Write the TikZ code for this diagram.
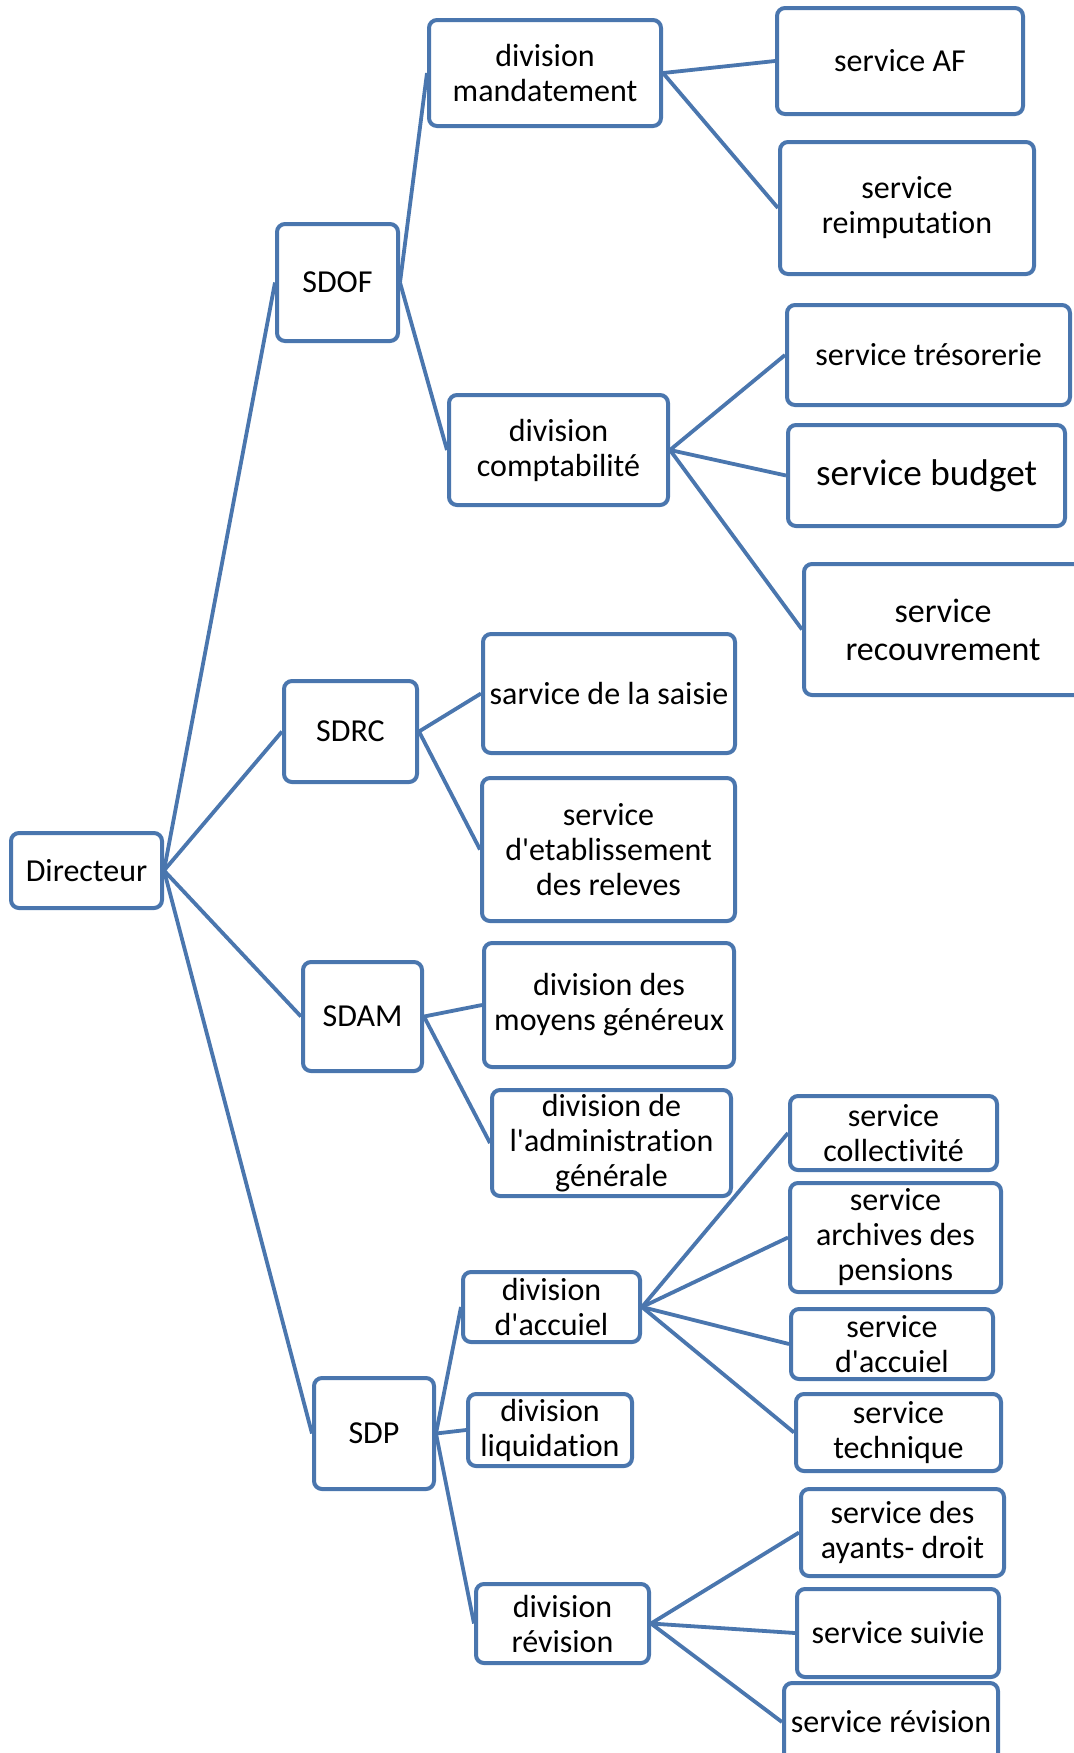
\documentclass[tikz,border=0pt]{standalone}
\usepackage{fontspec}
\setmainfont{Carlito}[Ligatures={NoCommon}]
\usetikzlibrary{backgrounds}
\definecolor{bl}{RGB}{74,118,174}
\newcommand{\ap}{\textquotesingle}
\tikzset{
  bx/.style 2 args={draw=bl, line width=2pt, rounded corners=4pt, fill=white,
    align=center, inner sep=0pt, minimum width=#1*0.5pt, minimum height=#2*0.5pt,
    font=\fontsize{16}{17.5}\selectfont},
  ln/.style={draw=bl, line width=1.9pt},
  big/.style={font=\fontsize{18.6}{20}\selectfont},
  mid/.style={font=\fontsize{17}{19}\selectfont}
}
\begin{document}
\begin{tikzpicture}[x=0.5pt,y=-0.5pt]
\useasboundingbox (0,0) rectangle (1073,1753);
% level 0
\node[bx={151}{75}] (dir) at (86.5,870.5) {Directeur};
% level 1
\node[bx={121}{117}] (sdof) at (337.5,282.5) {SDOF};
\node[bx={133}{101}] (sdrc) at (350.5,731.5) {SDRC};
\node[bx={119}{109}] (sdam) at (362.5,1016.5) {SDAM};
\node[bx={120}{111}] (sdp) at (374,1433.5) {SDP};
% SDOF children
\node[bx={232}{106}] (mand) at (545,73) {division\\mandatement};
\node[bx={219}{110}] (compta) at (558.5,450) {division\\comptabilit\'e};
\node[bx={246}{106}] (af) at (900,61) {service AF};
\node[bx={254}{132}] (reimp) at (907,208) {service\\reimputation};
\node[bx={283}{100}] (treso) at (928.5,355) {service tr\'esorerie};
\node[bx={277}{101},big] (budget) at (926.5,475.5) {service budget};
\node[bx={278}{131},mid] (recouv) at (943,629.5) {service\\recouvrement};
% SDRC children
\node[bx={252}{119}] (saisie) at (609,693.5) {sarvice de la saisie};
\node[bx={253}{143}] (etab) at (608.5,849.5) {service\\d\ap etablissement\\des releves};
% SDAM children
\node[bx={250}{124}] (moyens) at (609,1005) {division des\\moyens g\'en\'ereux};
\node[bx={239}{106}] (admin) at (611.5,1143) {division de\\l\ap administration\\g\'en\'erale};
% SDP children
\node[bx={177}{70}] (daccueil) at (551.5,1307) {division\\d\ap accuiel};
\node[bx={164}{72}] (liquid) at (550,1430) {division\\liquidation};
\node[bx={173}{79}] (drev) at (562.5,1623.5) {division\\r\'evision};
% division d'accuiel children
\node[bx={207}{74}] (collect) at (893.5,1133) {service\\collectivit\'e};
\node[bx={211}{109}] (archives) at (895.5,1237.5) {service\\archives des\\pensions};
\node[bx={202}{70}] (saccueil) at (892,1344) {service\\d\ap accuiel};
\node[bx={205}{77}] (techn) at (898.5,1432.5) {service\\technique};
% division revision children
\node[bx={203}{87}] (ayants) at (902.5,1532.5) {service des\\ayants- droit};
\node[bx={202}{88}] (suivie) at (898,1633) {service suivie};
\node[bx={214}{78}] (srev) at (891,1722) {service r\'evision};
\begin{scope}[on background layer]
\draw[ln] (dir.east) -- (sdof.west);
\draw[ln] (dir.east) -- (sdrc.west);
\draw[ln] (dir.east) -- (sdam.west);
\draw[ln] (dir.east) -- (sdp.west);
\draw[ln] (sdof.east) -- (mand.west);
\draw[ln] (sdof.east) -- (compta.west);
\draw[ln] (mand.east) -- (af.west);
\draw[ln] (mand.east) -- (reimp.west);
\draw[ln] (compta.east) -- (treso.west);
\draw[ln] (compta.east) -- (budget.west);
\draw[ln] (compta.east) -- (recouv.west);
\draw[ln] (sdrc.east) -- (saisie.west);
\draw[ln] (sdrc.east) -- (etab.west);
\draw[ln] (sdam.east) -- (moyens.west);
\draw[ln] (sdam.east) -- (admin.west);
\draw[ln] (sdp.east) -- (daccueil.west);
\draw[ln] (sdp.east) -- (liquid.west);
\draw[ln] (sdp.east) -- (drev.west);
\draw[ln] (daccueil.east) -- (collect.west);
\draw[ln] (daccueil.east) -- (archives.west);
\draw[ln] (daccueil.east) -- (saccueil.west);
\draw[ln] (daccueil.east) -- (techn.west);
\draw[ln] (drev.east) -- (ayants.west);
\draw[ln] (drev.east) -- (suivie.west);
\draw[ln] (drev.east) -- (srev.west);
\end{scope}
\end{tikzpicture}
\end{document}
